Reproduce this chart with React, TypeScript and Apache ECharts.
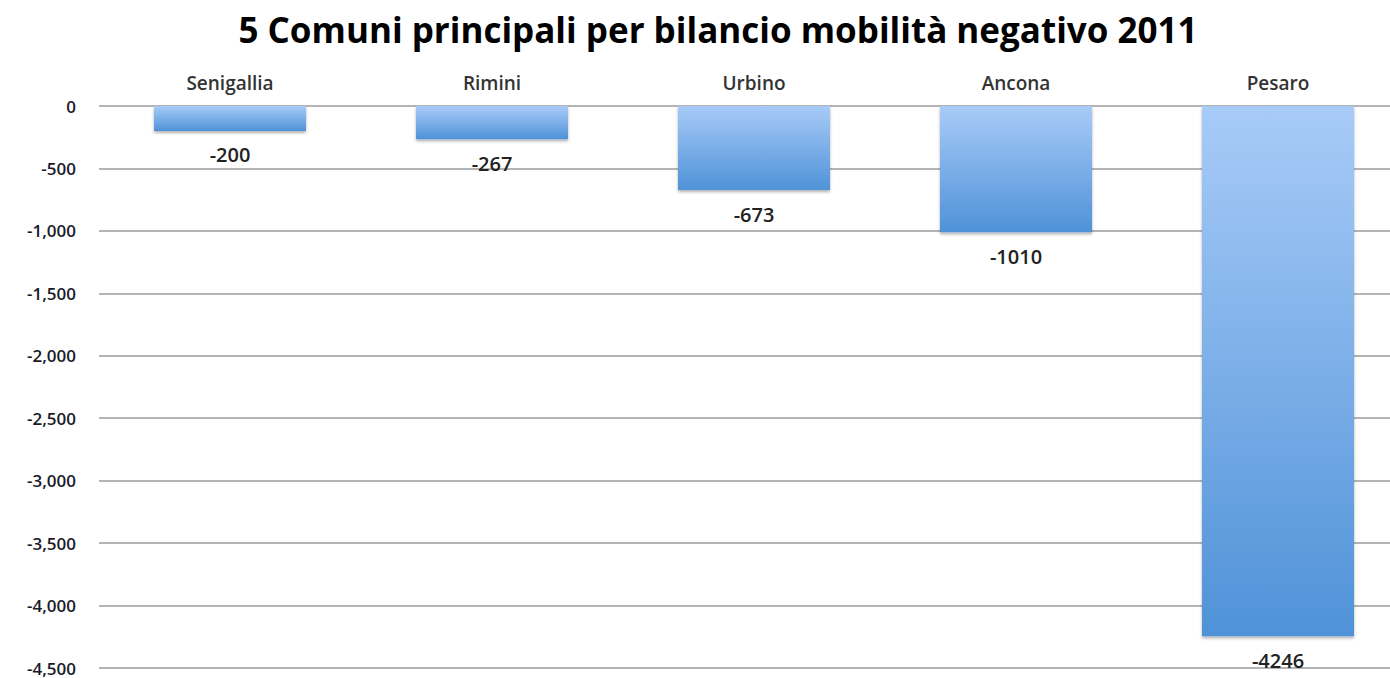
import React, { useEffect, useRef } from "react";
import * as echarts from "echarts";

const categories = ["Senigallia", "Rimini", "Urbino", "Ancona", "Pesaro"];
const values = [-200, -267, -673, -1010, -4246];
const titleText = "5 Comuni principali per bilancio mobilità negativo 2011";

export default function App() {
  const ref = useRef<HTMLDivElement>(null);
  useEffect(() => {
    if (!ref.current) return;
    const chart = echarts.init(ref.current, null, { renderer: "svg" });
    const font = "'Open Sans', sans-serif";
    chart.setOption({
      animation: false,
      backgroundColor: "#ffffff",
      title: {
        text: titleText,
        left: "center",
        top: 7,
        textStyle: { fontFamily: font, fontSize: 35, fontWeight: "bold", color: "#000" },
      },
      grid: { left: 99, top: 106, width: 1310, height: 562, containLabel: false },
      xAxis: {
        type: "category",
        position: "top",
        data: categories,
        axisLine: { show: false },
        axisTick: { show: false },
        axisLabel: { fontFamily: font, fontSize: 19, fontWeight: 600, color: "#333", margin: 14 },
      },
      yAxis: {
        type: "value",
        min: -4500,
        max: 0,
        interval: 500,
        axisLine: { show: false },
        axisTick: { show: false },
        splitLine: { lineStyle: { color: "#b4b4b4", width: 2 } },
        axisLabel: {
          fontFamily: font,
          fontSize: 17,
          fontWeight: 600,
          color: "#1a1a2a",
          margin: 23,
          formatter: (v: number) => (v === 0 ? "0" : "-" + Math.abs(v).toLocaleString("en-US")),
        },
      },
      series: [
        {
          type: "bar",
          data: values,
          barWidth: 152,
          itemStyle: {
            color: new echarts.graphic.LinearGradient(0, 0, 0, 1, [
              { offset: 0, color: "#a8cbf8" },
              { offset: 1, color: "#4f92d8" },
            ]),
            shadowColor: "rgba(0,0,0,0.3)",
            shadowBlur: 3,
            shadowOffsetY: 2,
          },
          label: {
            show: true,
            position: "bottom",
            distance: 14,
            fontFamily: font,
            fontSize: 20,
            fontWeight: 600,
            color: "#222",
          },
        },
      ],
    });
    return () => chart.dispose();
  }, []);
  return (
    <div style={{ position: "fixed", left: 0, top: 0, width: 1390, height: 678, overflow: "hidden" }}>
      <div ref={ref} style={{ width: 1436, height: 678 }} />
    </div>
  );
}
